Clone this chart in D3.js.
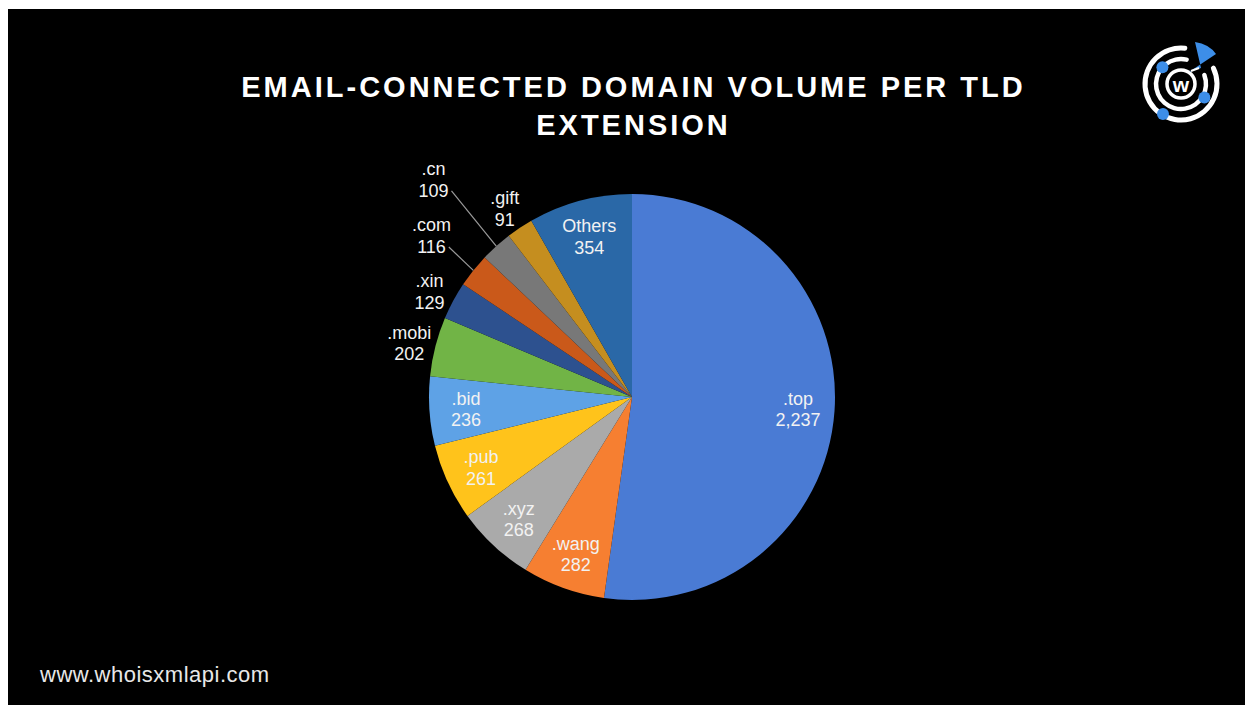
<!DOCTYPE html>
<html>
<head>
<meta charset="utf-8">
<script src="https://cdn.jsdelivr.net/npm/d3@7/dist/d3.min.js"></script>
<style>
  html, body { margin: 0; padding: 0; background: #ffffff; }
  svg { display: block; }
</style>
</head>
<body>
<svg id="chart" width="1245" height="705"></svg>
<script>
// TLD extensions and the number of email-connected domains for each
const categories = [".top", ".wang", ".xyz", ".pub", ".bid", ".mobi", ".xin", ".com", ".cn", ".gift", "Others"];
const values = [2237, 282, 268, 261, 236, 202, 129, 116, 109, 91, 354];
const sliceColors = ["#4776cb", "#ec7a2f", "#a3a3a3", "#f7bb1a", "#5a9bdc", "#6cac43",
                     "#2b4e89", "#c25519", "#737373", "#bd881e", "#2864a0"];
const titleLines = ["EMAIL-CONNECTED DOMAIN VOLUME PER TLD", "EXTENSION"];
const footerText = "www.whoisxmlapi.com";

const W = 1245, H = 705;
const svg = d3.select("#chart");

// dark slide with a thin light margin on the top and left
svg.append("rect").attr("x", 8).attr("y", 9).attr("width", W - 8).attr("height", H - 9).attr("fill", "#000");

// title
const titleFont = 29, titleSpacing = 3.0, cxTitle = 632;
titleLines.forEach((t, i) => {
  svg.append("text")
    .attr("x", cxTitle + titleSpacing / 2)
    .attr("y", 97 + i * 38)
    .attr("text-anchor", "middle")
    .attr("font-family", "Liberation Sans, Arial, sans-serif")
    .attr("font-weight", "bold")
    .attr("font-size", titleFont)
    .attr("letter-spacing", titleSpacing)
    .attr("fill", "#ffffff")
    .text(t);
});

// footer
svg.append("text")
  .attr("x", 40).attr("y", 682)
  .attr("font-family", "Liberation Sans, Arial, sans-serif")
  .attr("font-size", 22)
  .attr("letter-spacing", 0.5)
  .attr("fill", "#e8e8e8")
  .text(footerText);

// pie
const cx = 632, cy = 397, R = 203;
const data = categories.map((c, i) => ({ name: c, value: values[i], color: sliceColors[i] }));
const pie = d3.pie().sort(null).value(d => d.value).startAngle(0).endAngle(2 * Math.PI);
const arcs = pie(data);
const arc = d3.arc().innerRadius(0).outerRadius(R);

const defs = svg.append("defs");
arcs.forEach((a, i) => {
  const g = defs.append("linearGradient")
    .attr("id", "grad" + i)
    .attr("gradientUnits", "userSpaceOnUse")
    .attr("x1", 0).attr("y1", cy - R).attr("x2", 0).attr("y2", cy + R);
  g.append("stop").attr("offset", 0).attr("stop-color", d3.color(a.data.color).brighter(0.12));
  g.append("stop").attr("offset", 1).attr("stop-color", d3.color(a.data.color).darker(0.15));
});

const gPie = svg.append("g").attr("transform", `translate(${cx},${cy})`);
gPie.selectAll("path.slice")
  .data(arcs)
  .enter().append("path")
  .attr("class", "slice")
  .attr("d", arc)
  .attr("fill", (d, i) => `url(#grad${i})`);

// labels: inside for wide slices, outside (stacked when crowded) for narrow ones
const fmt = d3.format(",");
const labelFont = 18;
const insideArc = d3.arc().innerRadius(R * 0.82).outerRadius(R * 0.82);
const outsideArc = d3.arc().innerRadius(R * 1.133).outerRadius(R * 1.133);
const edgeArc = d3.arc().innerRadius(R).outerRadius(R);
const narrow = 0.32;

const gLab = svg.append("g").attr("transform", `translate(${cx},${cy})`);

function measure(str) {
  const t = gLab.append("text").attr("font-family", "Liberation Sans, Arial, sans-serif")
    .attr("font-size", labelFont).text(str);
  const w = t.node().getComputedTextLength();
  t.remove();
  return w;
}

const labels = arcs.map(a => {
  const outside = (a.endAngle - a.startAngle) < narrow;
  const [x, y] = (outside ? outsideArc : insideArc).centroid(a);
  const w = Math.max(measure(a.data.name), measure(fmt(a.data.value)));
  return { a, outside, x, y, w, moved: false };
});

const boxH = 42, padX = 20, padY = 6, stackGap = 56;
const placed = [];
labels.filter(l => l.outside).forEach(l => {
  const hit = placed.some(p => Math.abs(p.x - l.x) < (p.w + l.w) / 2 + padX &&
                               Math.abs(p.y - l.y) < boxH + padY);
  if (hit) {
    const prev = placed[placed.length - 1];
    l.y = prev.y - stackGap;
    l.x = prev.x + 2;
    l.moved = true;
  }
  placed.push(l);
});

labels.forEach(l => {
  const t = gLab.append("text")
    .attr("text-anchor", "middle")
    .attr("font-family", "Liberation Sans, Arial, sans-serif")
    .attr("font-size", labelFont)
    .attr("fill", "#f2f2f2");
  const dy = l.outside ? 3 : 0;
  t.append("tspan").attr("x", l.x).attr("y", l.y - 4 + dy).text(l.a.data.name);
  t.append("tspan").attr("x", l.x).attr("y", l.y + 17.5 + dy).text(fmt(l.a.data.value));
  if (l.moved) {
    const vw = measure(fmt(l.a.data.value));
    const [ex, ey] = edgeArc.centroid(l.a);
    gLab.append("path")
      .attr("d", d3.line()([[l.x + vw / 2 + 3, l.y + 12 + dy], [ex, ey]]))
      .attr("stroke", "#9a9a9a")
      .attr("stroke-width", 1.2)
      .attr("fill", "none");
  }
});

// brand mark in the top-right corner
const logo = svg.append("g").attr("transform", "translate(1181,84)");
const blue = "#3d8ee8";
const ring = (r, a0, a1, w) => logo.append("path")
  .attr("d", d3.arc().innerRadius(r - w / 2).outerRadius(r + w / 2)
    .startAngle(a0 * Math.PI / 180).endAngle(a1 * Math.PI / 180).cornerRadius(w / 2)())
  .attr("fill", "#ffffff");
ring(36, 60, 370, 5);
ring(25, 64, 378, 4.5);
logo.append("circle").attr("r", 14).attr("fill", "#000").attr("stroke", "#fff").attr("stroke-width", 3.5);
logo.append("text").attr("y", 7.5).attr("text-anchor", "middle")
  .attr("font-family", "Liberation Sans, Arial, sans-serif").attr("font-weight", "bold")
  .attr("font-size", 21).attr("fill", "#fff").text("w");
logo.append("path").attr("d", "M8,-12 L20,-16 L14,-42 Q28,-40 35,-30 Z").attr("fill", blue);
logo.append("line").attr("x1", 10).attr("y1", -13).attr("x2", 18).attr("y2", -16)
  .attr("stroke", "#fff").attr("stroke-width", 2);
[[312, 25], [120, 27], [211, 35]].forEach(([ang, r]) => {
  const t = ang * Math.PI / 180;
  logo.append("circle").attr("cx", r * Math.sin(t)).attr("cy", -r * Math.cos(t))
    .attr("r", 6).attr("fill", blue);
});
</script>
</body>
</html>
